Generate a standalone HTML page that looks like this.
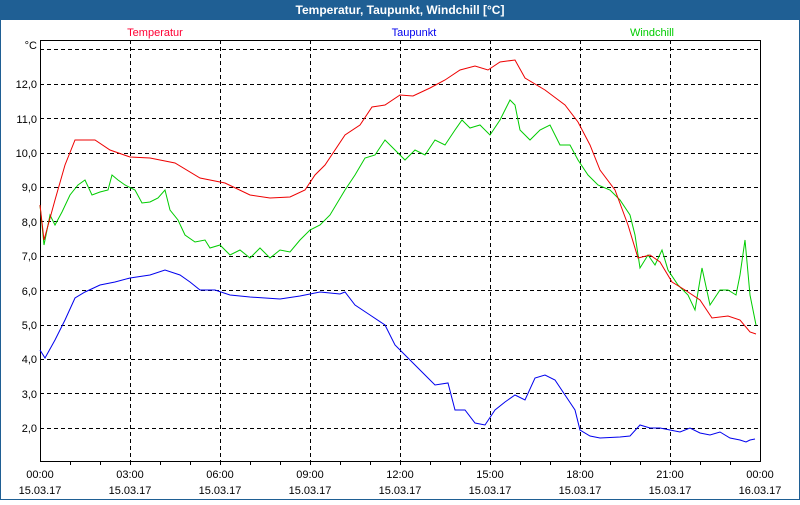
<!DOCTYPE html>
<html><head><meta charset="utf-8"><style>
body{margin:0;background:#fff}
svg text{font-family:"Liberation Sans",sans-serif;font-size:11px}
</style></head><body>
<svg width="800" height="500" xmlns="http://www.w3.org/2000/svg">
<rect x="0" y="0" width="800" height="500" fill="#fff"/>
<rect x="0.5" y="0.5" width="799" height="499" fill="none" stroke="#1f5f94" stroke-width="1"/>
<rect x="0" y="0" width="800" height="20" fill="#1f5f94"/>
<text x="400" y="14" text-anchor="middle" fill="#fff" font-weight="bold" style="font-size:12px">Temperatur, Taupunkt, Windchill [°C]</text>
<text x="155" y="36" text-anchor="middle" fill="#ff0033">Temperatur</text>
<text x="414" y="36" text-anchor="middle" fill="#0000ee">Taupunkt</text>
<text x="652" y="36" text-anchor="middle" fill="#00cc00">Windchill</text>
<g stroke="#000" stroke-dasharray="4,3" stroke-width="1">
<line x1="40" y1="49.5" x2="760" y2="49.5"/><line x1="40" y1="84.5" x2="760" y2="84.5"/>
<line x1="40" y1="118.5" x2="760" y2="118.5"/><line x1="40" y1="153.5" x2="760" y2="153.5"/>
<line x1="40" y1="187.5" x2="760" y2="187.5"/><line x1="40" y1="221.5" x2="760" y2="221.5"/>
<line x1="40" y1="256.5" x2="760" y2="256.5"/><line x1="40" y1="290.5" x2="760" y2="290.5"/>
<line x1="40" y1="325.5" x2="760" y2="325.5"/><line x1="40" y1="359.5" x2="760" y2="359.5"/>
<line x1="40" y1="393.5" x2="760" y2="393.5"/><line x1="40" y1="428.5" x2="760" y2="428.5"/>
<line x1="130.5" y1="40" x2="130.5" y2="461"/><line x1="220.5" y1="40" x2="220.5" y2="461"/>
<line x1="310.5" y1="40" x2="310.5" y2="461"/><line x1="400.5" y1="40" x2="400.5" y2="461"/>
<line x1="490.5" y1="40" x2="490.5" y2="461"/><line x1="580.5" y1="40" x2="580.5" y2="461"/>
<line x1="670.5" y1="40" x2="670.5" y2="461"/>
</g>
<rect x="40.5" y="40.5" width="720" height="421" fill="none" stroke="#000"/>
<g stroke="#000">
<path d="M70.5 461v4M100.5 461v4M130.5 461v4M160.5 461v4M190.5 461v4M220.5 461v4M250.5 461v4M280.5 461v4M310.5 461v4M340.5 461v4M370.5 461v4M400.5 461v4M430.5 461v4M460.5 461v4M490.5 461v4M520.5 461v4M550.5 461v4M580.5 461v4M610.5 461v4M640.5 461v4M670.5 461v4M700.5 461v4M730.5 461v4"/>
</g>
<g text-anchor="end" fill="#000">
<text x="37" y="49">°C</text><text x="37" y="88">12,0</text><text x="37" y="123">11,0</text>
<text x="37" y="157">10,0</text><text x="37" y="191">9,0</text><text x="37" y="226">8,0</text>
<text x="37" y="260">7,0</text><text x="37" y="295">6,0</text><text x="37" y="329">5,0</text>
<text x="37" y="363">4,0</text><text x="37" y="398">3,0</text><text x="37" y="432">2,0</text>
</g>
<g text-anchor="middle" fill="#000">
<text x="40" y="478">00:00</text><text x="40" y="494">15.03.17</text>
<text x="130" y="478">03:00</text><text x="130" y="494">15.03.17</text>
<text x="220" y="478">06:00</text><text x="220" y="494">15.03.17</text>
<text x="310" y="478">09:00</text><text x="310" y="494">15.03.17</text>
<text x="400" y="478">12:00</text><text x="400" y="494">15.03.17</text>
<text x="490" y="478">15:00</text><text x="490" y="494">15.03.17</text>
<text x="580" y="478">18:00</text><text x="580" y="494">15.03.17</text>
<text x="670" y="478">21:00</text><text x="670" y="494">15.03.17</text>
<text x="760" y="478">00:00</text><text x="760" y="494">16.03.17</text>
</g>
<polyline fill="none" stroke="#00cc00" points="40,205 44,245 50,215 55,225 62,212 70,195 78,185 85,180 92,195 100,192 108,190 112,175 118,180 125,185 135,190 142,203 150,202 158,198 165,190 170,210 178,220 185,235 195,242 205,240 210,248 220,245 230,255 240,250 250,258 260,248 270,258 280,250 290,252 300,240 310,230 320,225 330,215 345,190 355,175 365,158 375,155 385,140 395,150 405,160 415,150 425,155 435,140 445,145 455,130 462,120 470,128 480,125 490,135 500,120 510,100 515,105 520,130 530,140 540,130 550,125 560,145 570,145 578,160 588,175 598,185 610,190 620,200 630,215 635,235 640,268 648,255 655,265 662,250 668,270 678,285 688,295 695,310 702,268 710,305 720,290 728,290 736,295 740,275 745,240 750,295 756,325"/>
<polyline fill="none" stroke="#ee0000" points="40,205 44,240 55,200 65,165 75,140 95,140 110,150 130,157 150,158 175,163 200,178 225,183 250,195 270,198 290,197 305,190 315,175 325,165 345,135 360,125 372,107 385,105 400,95 413,96 430,88 445,80 460,70 475,66 488,70 500,62 515,60 525,78 545,90 565,105 578,122 590,145 600,170 615,190 628,225 638,258 650,255 660,262 672,282 685,290 700,300 712,318 728,316 740,320 750,332 756,334"/>
<polyline fill="none" stroke="#0000ee" points="40,350 45,358 55,340 65,320 75,298 85,292 100,285 115,282 130,278 150,275 165,270 180,275 190,282 200,290 215,290 230,295 250,297 280,299 300,296 320,292 340,294 345,292 355,305 370,315 385,325 395,345 405,355 420,370 435,385 448,383 455,410 465,410 475,423 485,425 495,410 505,402 515,395 525,400 535,378 545,375 555,380 565,395 575,410 580,430 590,436 600,438 620,437 630,436 640,425 650,428 660,428 670,430 680,432 690,428 700,433 710,435 720,432 730,438 740,440 746,442 750,440 755,439"/>
</svg>
</body></html>
